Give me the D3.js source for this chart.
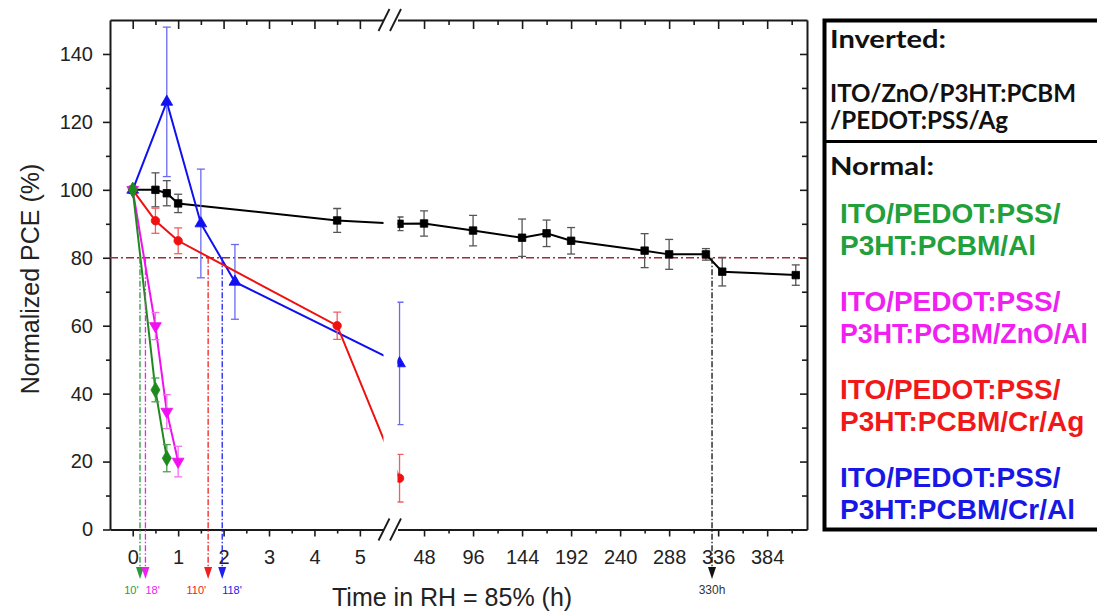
<!DOCTYPE html>
<html><head><meta charset="utf-8">
<script src="https://cdn.jsdelivr.net/npm/d3@7"></script>
<style>body{margin:0;background:#fff}svg{display:block}</style>
</head><body>
<svg id="chart" width="1097" height="612"></svg>
<script>
// ---------------- data ----------------
const timeInverted = [0, 0.5, 0.75, 1.0, 4.5, 24, 48, 96, 144, 168, 192, 264, 288, 324, 340, 412];
const pceInverted  = [100, 100, 99, 96, 91, 90, 90.1, 88, 85.9, 87.2, 85, 82.1, 81, 81, 75.9, 74.9];
const errInverted  = [0, 5, 3.7, 2.7, 3.5, 2, 3.7, 4.5, 5.5, 3.9, 3.9, 5, 4.4, 1.7, 4.2, 3];

const timeAl = [0, 0.5, 0.75];
const pceAl  = [100, 41.1, 21];
const errAl  = [0, 3.5, 4];

const timeZnOAl = [0, 0.5, 0.75, 1.0];
const pceZnOAl  = [100, 59.9, 34.7, 20];
const errZnOAl  = [0, 4, 5, 4.5];

const timeCrAg = [0, 0.5, 1.0, 4.5, 24];
const pceCrAg  = [100, 90.9, 85, 60, 15.1];
const errCrAg  = [0, 3.7, 3.8, 4, 7];

const timeCrAl = [0, 0.75, 1.5, 2.25, 24];
const pceCrAl  = [100, 125.9, 90.1, 72.9, 48.9];
const errCrAl  = [0, 22, 16, 11, 18];

const thresholdPCE = 80;
const t80Hours  = [0.16, 0.28, 1.66, 1.97];
const t80Labels = ["10'", "18'", "110'", "118'"];
const t80InvertedHours = 330;
const t80InvertedLabel = "330h";

const yTicks = [0, 20, 40, 60, 80, 100, 120, 140];
const yMinorTicks = [10, 30, 50, 70, 90, 110, 130];
const xTicksLeft = [0, 1, 2, 3, 4, 5];
const xMinorLeft = [0.5, 1.5, 2.5, 3.5, 4.5];
const xTicksRight = [48, 96, 144, 192, 240, 288, 336, 384];
const xMinorRight = [72, 120, 168, 216, 264, 312, 360, 408];

const legendInvertedTitle = "Inverted:";
const legendInvertedLines = ["ITO/ZnO/P3HT:PCBM", "/PEDOT:PSS/Ag"];
const legendNormalTitle = "Normal:";
const legendNormal = [
  ["ITO/PEDOT:PSS/", "P3HT:PCBM/Al"],
  ["ITO/PEDOT:PSS/", "P3HT:PCBM/ZnO/Al"],
  ["ITO/PEDOT:PSS/", "P3HT:PCBM/Cr/Ag"],
  ["ITO/PEDOT:PSS/", "P3HT:PCBM/Cr/Al"]
];
const yTitle = "Normalized PCE (%)";
const xTitle = "Time in RH = 85% (h)";

// ---------------- setup ----------------
const W = 1097, H = 612;
const svg = d3.select("#chart");
const FONT = "'Liberation Sans', Arial, Helvetica, sans-serif";
const AX = "#1a1a1a";

const xL = d3.scaleLinear().domain([-0.5, 5.52]).range([110, 383.5]);
const xR = d3.scaleLinear().domain([22, 423]).range([397.5, 807]);
const y  = d3.scaleLinear().domain([0, 150]).range([529.5, 20]);
const px = h => (h < 12 ? xL(h) : xR(h));

const defs = svg.append("defs");
[["clipL", xL], ["clipR", xR]].forEach(([id, s]) => {
  defs.append("clipPath").attr("id", id).append("rect")
    .attr("x", s.range()[0]).attr("y", 0)
    .attr("width", s.range()[1] - s.range()[0]).attr("height", H);
});

// ---------------- axes ----------------
function styleAxis(g, sw) {
  g.select(".domain").attr("stroke", AX).attr("stroke-width", sw || 2);
  g.selectAll(".tick line").attr("stroke", AX).attr("stroke-width", 1.6);
  g.selectAll(".tick text").attr("fill", "#222").style("font-family", FONT).style("font-size", "20px");
}
const yB = y(0), yT = y(150);

[[xL, xTicksLeft, xMinorLeft], [xR, xTicksRight, xMinorRight]].forEach(([s, maj, mn]) => {
  const gb = svg.append("g").attr("transform", `translate(0,${yB})`)
    .call(d3.axisBottom(s).tickValues(maj).tickSize(7).tickSizeOuter(0).tickPadding(13).tickFormat(d3.format("d")));
  styleAxis(gb);
  const gbm = svg.append("g").attr("transform", `translate(0,${yB})`)
    .call(d3.axisBottom(s).tickValues(mn).tickSize(4).tickFormat(""));
  gbm.select(".domain").remove(); styleAxis(gbm);
  const gt = svg.append("g").attr("transform", `translate(0,${yT})`)
    .call(d3.axisTop(s).tickValues(maj).tickSize(-9).tickSizeOuter(0).tickFormat(""));
  styleAxis(gt);
  const gtm = svg.append("g").attr("transform", `translate(0,${yT})`)
    .call(d3.axisTop(s).tickValues(mn).tickSize(-5).tickFormat(""));
  gtm.select(".domain").remove(); styleAxis(gtm);
});

const gl = svg.append("g").attr("transform", `translate(${xL.range()[0]},0)`)
  .call(d3.axisLeft(y).tickValues(yTicks).tickSize(7).tickSizeOuter(0).tickPadding(10));
styleAxis(gl);
const glm = svg.append("g").attr("transform", `translate(${xL.range()[0]},0)`)
  .call(d3.axisLeft(y).tickValues(yMinorTicks).tickSize(4).tickFormat(""));
glm.select(".domain").remove(); styleAxis(glm);

const gr = svg.append("g").attr("transform", `translate(${xR.range()[1]},0)`)
  .call(d3.axisRight(y).tickValues(yTicks).tickSize(-7).tickSizeOuter(0).tickFormat(""));
styleAxis(gr);
const grm = svg.append("g").attr("transform", `translate(${xR.range()[1]},0)`)
  .call(d3.axisRight(y).tickValues(yMinorTicks).tickSize(-5).tickFormat(""));
grm.select(".domain").remove(); styleAxis(grm);

// break marks
[yB, yT].forEach(yy => {
  [384, 395.5].forEach(cx => {
    svg.append("line").attr("x1", cx - 5.5).attr("y1", yy + 11).attr("x2", cx + 5.5).attr("y2", yy - 11)
      .attr("stroke", AX).attr("stroke-width", 1.8);
  });
});

// axis titles
svg.append("text").attr("transform", `translate(39,${279}) rotate(-90)`)
  .attr("text-anchor", "middle").style("font-family", FONT).style("font-size", "25px").attr("fill", "#222")
  .text(yTitle);
svg.append("text").attr("x", 332).attr("y", 606)
  .attr("text-anchor", "start").style("font-family", FONT).style("font-size", "25px").attr("fill", "#222")
  .text(xTitle);

// ---------------- 80% reference ----------------
svg.append("line").attr("x1", xL.range()[0]).attr("x2", xR.range()[1])
  .attr("y1", y(thresholdPCE)).attr("y2", y(thresholdPCE))
  .attr("stroke", "#a32a30").attr("stroke-width", 1.6).attr("stroke-dasharray", "8,3,2,3");

// ---------------- series ----------------
const series = [
  {t: timeInverted, v: pceInverted, e: errInverted, color: "#000000", ecolor: "#555555", sym: d3.symbolSquare, size: 56, rot: 0},
  {t: timeCrAl, v: pceCrAl, e: errCrAl, color: "#1010f0", ecolor: "#6a6af0", sym: d3.symbolTriangle, size: 60, rot: 0},
  {t: timeCrAg, v: pceCrAg, e: errCrAg, color: "#f01010", ecolor: "#f06060", sym: d3.symbolCircle, size: 56, rot: 0},
  {t: timeZnOAl, v: pceZnOAl, e: errZnOAl, color: "#f010f0", ecolor: "#f070f0", sym: d3.symbolTriangle, size: 60, rot: 180},
  {t: timeAl, v: pceAl, e: errAl, color: "#1e8a1e", ecolor: "#4f9f4f", sym: d3.symbolDiamond, size: 70, rot: 0}
];
const line = d3.line();
["clipL", "clipR"].forEach(cid => {
  const g = svg.append("g").attr("clip-path", `url(#${cid})`);
  series.forEach(s => {
    const pts = s.t.map((t, i) => [px(t), y(s.v[i])]);
    g.append("path").attr("d", line(pts)).attr("fill", "none")
      .attr("stroke", s.color).attr("stroke-width", 2);
    s.t.forEach((t, i) => {
      if (!s.e[i]) return;
      const cx = px(t), y1 = y(s.v[i] + s.e[i]), y2 = y(s.v[i] - s.e[i]);
      const eg = g.append("g").attr("stroke", s.ecolor).attr("stroke-width", 1.3);
      eg.append("line").attr("x1", cx).attr("x2", cx).attr("y1", y1).attr("y2", y2);
      eg.append("line").attr("x1", cx - 4).attr("x2", cx + 4).attr("y1", y1).attr("y2", y1);
      eg.append("line").attr("x1", cx - 4).attr("x2", cx + 4).attr("y1", y2).attr("y2", y2);
    });
    s.t.forEach((t, i) => {
      g.append("path").attr("d", d3.symbol().type(s.sym).size(s.size)())
        .attr("transform", `translate(${px(t)},${y(s.v[i])}) rotate(${s.rot})`)
        .attr("fill", s.color).attr("stroke", s.color).attr("stroke-width", 0.8);
    });
  });
});

// ---------------- 80% markers ----------------
const markColors = ["#2a9a3a", "#f020f0", "#f02020", "#2020f0"];
const labelAnchor = ["end", "start", "end", "start"];
const labelShift = [-1.5, 0, -2, 0];
const arrowTop = 567, arrowTip = 579;
function dropMarker(xx, color, lbl, anchor, shift, fs, lblColor) {
  svg.append("line").attr("x1", xx).attr("x2", xx).attr("y1", y(thresholdPCE)).attr("y2", arrowTop)
    .attr("stroke", color).attr("stroke-width", 1.3).attr("stroke-dasharray", "6,2,1.5,2");
  svg.append("path").attr("d", `M${xx - 4},${arrowTop} L${xx + 4},${arrowTop} L${xx},${arrowTip} Z`)
    .attr("fill", color);
  svg.append("text").attr("x", xx + shift).attr("y", 594).attr("text-anchor", anchor)
    .style("font-family", FONT).style("font-size", fs + "px").attr("fill", lblColor || color).text(lbl);
}
t80Hours.forEach((h, i) => dropMarker(xL(h), markColors[i], t80Labels[i], labelAnchor[i], labelShift[i], 11));
dropMarker(xR(t80InvertedHours), "#111", t80InvertedLabel, "middle", 0, 12, "#333");

// ---------------- legend ----------------
const lx = 824.5;
svg.append("rect").attr("x", lx).attr("y", 20.5).attr("width", 320).attr("height", 509)
  .attr("fill", "#fff").attr("stroke", "#000").attr("stroke-width", 4);
svg.append("line").attr("x1", lx).attr("x2", W + 10).attr("y1", 141.5).attr("y2", 141.5)
  .attr("stroke", "#000").attr("stroke-width", 3);

const LFONT = "Lato, 'Open Sans', sans-serif";
const blackLines = [[legendInvertedTitle, 48, 116], [legendInvertedLines[0], 101.5, 246], [legendInvertedLines[1], 128.5, 178], [legendNormalTitle, 175, 104]];
blackLines.forEach(([txt, yy, w]) => svg.append("text").attr("x", 830).attr("y", yy)
  .style("font-family", LFONT).style("font-weight", 700).style("font-size", "24.5px").attr("fill", "#111")
  .attr("textLength", w).attr("lengthAdjust", "spacingAndGlyphs").text(txt));

const legendColors = ["#22a03c", "#f020f0", "#f01818", "#1818e6"];
const groupBase = [223, 311, 399, 487];
const maxLegendRight = W - 9;
legendNormal.forEach((pair, i) => {
  pair.forEach((txt, j) => {
    const t = svg.append("text").attr("x", 840).attr("y", groupBase[i] + j * 32)
      .style("font-family", FONT).style("font-weight", 700).style("font-size", "28px")
      .attr("fill", legendColors[i]).text(txt);
    const w = t.node().getComputedTextLength();
    if (840 + w > maxLegendRight) {
      t.style("font-size", (28 * (maxLegendRight - 840) / w) + "px");
    }
  });
});
</script>
</body></html>
